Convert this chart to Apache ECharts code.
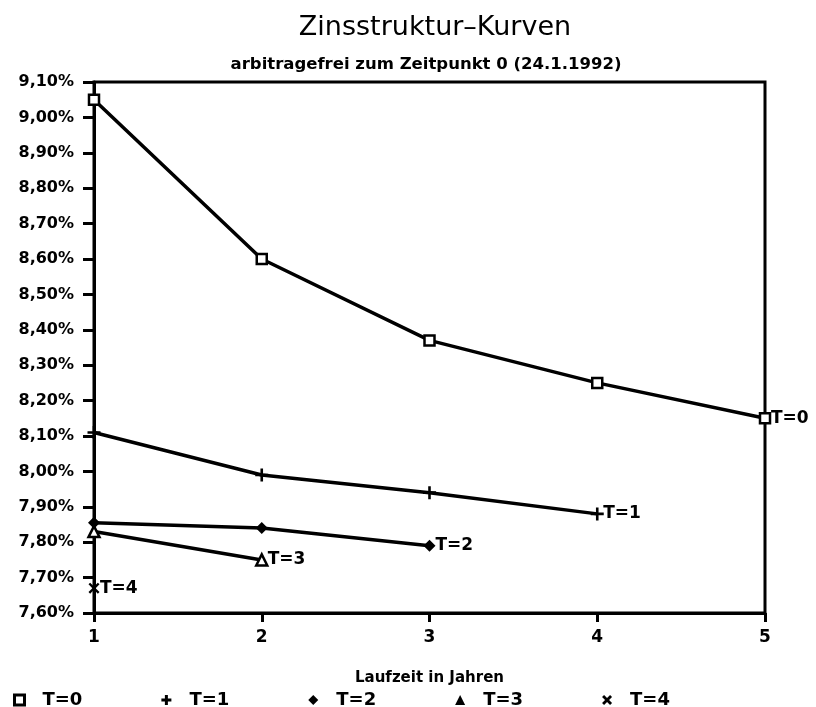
<!DOCTYPE html>
<html lang="de" style="height: 100%">
<head>
  <meta charset="utf-8">
</head>
<body style="height: 100%; margin: 0; background: #fff">
  <div id="container" style="width: 816px; height: 707px"></div>

  <script type="text/javascript" src="https://fastly.jsdelivr.net/npm/echarts@6/dist/echarts.min.js"></script>
  <script type="text/javascript">
    // Laufzeit in Jahren
    const laufzeit = [1, 2, 3, 4, 5];
    // Zinssaetze in %
    const t0 = [9.05, 8.60, 8.37, 8.25, 8.15];
    const t1 = [8.11, 7.99, 7.94, 7.88];
    const t2 = [7.855, 7.84, 7.79];
    const t3 = [7.83, 7.75];
    const t4 = [7.67];
    const seriesNames = ['T=0', 'T=1', 'T=2', 'T=3', 'T=4'];

    const plusPath = 'path://M4,0 H6 V4 H10 V6 H6 V10 H4 V6 H0 V4 H4 Z';
    const plusBold = 'path://M3.5,0 H6.5 V3.5 H10 V6.5 H6.5 V10 H3.5 V6.5 H0 V3.5 H3.5 Z';
    const crossPath = 'path://M1.5,0 L5,3.5 L8.5,0 L10,1.5 L6.5,5 L10,8.5 L8.5,10 L5,6.5 L1.5,10 L0,8.5 L3.5,5 L0,1.5 Z';
    const crossBold = 'path://M2,0 L5,3 L8,0 L10,2 L7,5 L10,8 L8,10 L5,7 L2,10 L0,8 L3,5 L0,2 Z';

    const font = 'DejaVu Sans';

    const dom = document.getElementById('container');
    const myChart = echarts.init(dom, null, { renderer: 'canvas' });

    function pairs(vals) {
      return vals.map(function (v, i) { return [laufzeit[i], v]; });
    }

    const markers = [
      { symbol: 'rect', size: 10, style: { color: '#fff', borderColor: '#000', borderWidth: 2.5 } },
      { symbol: plusPath, size: 13, style: { color: '#000' } },
      { symbol: 'diamond', size: 12, style: { color: '#000' } },
      { symbol: 'triangle', size: 11, style: { color: '#fff', borderColor: '#000', borderWidth: 2.5 } },
      { symbol: crossPath, size: 11, style: { color: '#000' } }
    ];

    const allData = [t0, t1, t2, t3, t4];

    const series = allData.map(function (vals, i) {
      return {
        name: seriesNames[i],
        type: 'line',
        data: pairs(vals),
        symbol: markers[i].symbol,
        symbolSize: markers[i].size,
        showAllSymbol: true,
        itemStyle: markers[i].style,
        lineStyle: { color: '#000', width: 3.5 },
        animation: false,
        endLabel: {
          show: true,
          formatter: seriesNames[i],
          distance: 6,
          color: '#000',
          fontFamily: font,
          fontWeight: 'bold',
          fontSize: 17
        }
      };
    });

    const option = {
      backgroundColor: '#fff',
      title: [
        {
          text: 'Zinsstruktur\u2013Kurven',
          left: 430,
          top: 9,
          textAlign: 'center',
          textStyle: { fontFamily: font, fontWeight: 'normal', fontSize: 27, color: '#000' }
        },
        {
          text: 'arbitragefrei zum Zeitpunkt 0 (24.1.1992)',
          left: 421,
          top: 51,
          textAlign: 'center',
          textStyle: { fontFamily: font, fontWeight: 'bold', fontSize: 16.5, color: '#000' }
        }
      ],
      grid: {
        left: 94,
        right: 51,
        top: 82,
        bottom: 94,
        show: true,
        borderColor: '#000',
        borderWidth: 3,
        containLabel: false
      },
      legend: {
        left: 8,
        top: 686,
        itemWidth: 10,
        itemHeight: 10,
        itemGap: 79,
        selectedMode: false,
        textStyle: {
          fontFamily: font,
          fontWeight: 'bold',
          fontSize: 18,
          color: '#000',
          padding: [0, 0, 0, 13]
        },
        data: [
          { name: 'T=0', icon: 'rect', itemStyle: { color: '#fff', borderColor: '#000', borderWidth: 3 } },
          { name: 'T=1', icon: plusBold, itemStyle: { color: '#000', borderWidth: 0 } },
          { name: 'T=2', icon: 'diamond', itemStyle: { color: '#000', borderWidth: 0 } },
          { name: 'T=3', icon: 'triangle', itemStyle: { color: '#000', borderWidth: 0 } },
          { name: 'T=4', icon: crossBold, itemStyle: { color: '#000', borderWidth: 0 } }
        ]
      },
      xAxis: {
        type: 'value',
        min: 1,
        max: 5,
        interval: 1,
        name: 'Laufzeit in Jahren',
        nameLocation: 'middle',
        nameGap: 58,
        nameTextStyle: { fontFamily: font, fontWeight: 'bold', fontSize: 15, color: '#000' },
        splitLine: { show: false },
        axisLine: { show: true, lineStyle: { color: '#000', width: 3 } },
        axisTick: { show: true, inside: false, length: 9, lineStyle: { color: '#000', width: 3 } },
        axisLabel: {
          margin: 16,
          fontFamily: font,
          fontWeight: 'bold',
          fontSize: 17,
          color: '#000'
        }
      },
      yAxis: {
        type: 'value',
        min: 7.6,
        max: 9.1,
        interval: 0.1,
        splitLine: { show: false },
        axisLine: { show: true, lineStyle: { color: '#000', width: 3 } },
        axisTick: { show: true, inside: false, length: 11, lineStyle: { color: '#000', width: 3 } },
        axisLabel: {
          margin: 20,
          fontFamily: font,
          fontWeight: 'bold',
          fontSize: 16,
          color: '#000',
          formatter: function (v) {
            return v.toFixed(2).replace('.', ',') + '%';
          }
        }
      },
      series: series
    };

    myChart.setOption(option);
    window.addEventListener('resize', myChart.resize);
  </script>
</body>
</html>
